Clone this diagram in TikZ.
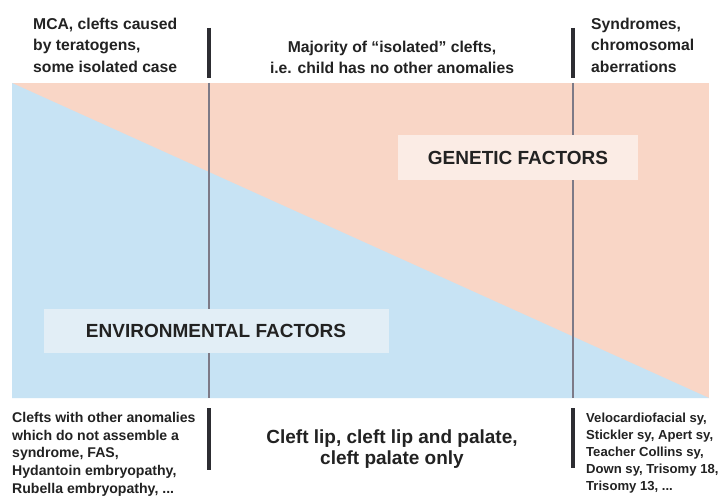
\documentclass[tikz,border=0pt]{standalone}
\usepackage{fontspec}
\setmainfont{Liberation Sans}
\definecolor{pinkbg}{RGB}{249,214,198}
\definecolor{bluebg}{RGB}{199,227,244}
\definecolor{pinkbox}{RGB}{251,236,229}
\definecolor{bluebox}{RGB}{226,238,246}
\definecolor{txtgray}{RGB}{34,34,34}
\definecolor{linedark}{RGB}{45,45,50}
\definecolor{linein}{RGB}{125,122,135}
\begin{document}
\begin{tikzpicture}[x=1pt,y=-1pt,
  basetxt/.style={inner sep=0pt, text=txtgray},
  toptext/.style={basetxt, align=left, font=\fontsize{15.7}{21.5}\selectfont\bfseries},
  botleft/.style={basetxt, align=left, font=\fontsize{14.1}{17.7}\selectfont\bfseries},
  botright/.style={basetxt, align=left, font=\fontsize{13.1}{17}\selectfont\bfseries},
  botmid/.style={basetxt, align=center, font=\fontsize{19}{21}\selectfont\bfseries},
  factorbox/.style={basetxt, font=\fontsize{19}{21}\selectfont\bfseries, align=center},
  sepout/.style={draw=linedark, line width=4pt},
  sepin/.style={draw=linein, line width=2.5pt}]
\useasboundingbox (0,0) rectangle (728,497);
\fill[white] (0,0) rectangle (728,497);
% background halves
\fill[pinkbg] (12,83) rectangle (709,398);
\fill[bluebg] (12,83) -- (709,398) -- (12,398) -- cycle;
% separators
\draw[sepout] (209,28) -- (209,78);
\draw[sepin] (209,83) -- (209,398);
\draw[sepout] (209,408) -- (209,470);
\draw[sepout] (573,28) -- (573,78);
\draw[sepin] (573,83) -- (573,398);
\draw[sepout] (573,408) -- (573,468);
% factor labels
\node[factorbox, fill=pinkbox, minimum width=240pt, minimum height=45pt] (gen) at (518,158) {GENETIC FACTORS};
\node[factorbox, fill=bluebox, minimum width=345pt, minimum height=44pt] (env) at (216,331) {ENVIRONMENTAL FACTORS};
% top texts
\node[toptext, anchor=north west] (mca) at (33,17.8) {MCA, clefts caused\\by teratogens,\\some isolated case};
\node[toptext, align=center, anchor=north] (maj) at (392,40.6) {Majority of “isolated” clefts,\\i.e. child has no other anomalies};
\node[toptext, anchor=north west] (syn) at (591,17.8) {Syndromes,\\chromosomal\\aberrations};
% bottom texts
\node[botleft, anchor=north west] (oth) at (12,411.9) {Clefts with other anomalies\\which do not assemble a\\syndrome, FAS,\\Hydantoin embryopathy,\\Rubella embryopathy, ...};
\node[botmid, anchor=north] (clp) at (392,429.4) {Cleft lip, cleft lip and palate,\\cleft palate only};
\node[botright, anchor=north west] (vel) at (586,412.6) {Velocardiofacial sy,\\Stickler sy, Apert sy,\\Teacher Collins sy,\\Down sy, Trisomy 18,\\Trisomy 13, ...};
\end{tikzpicture}
\end{document}
